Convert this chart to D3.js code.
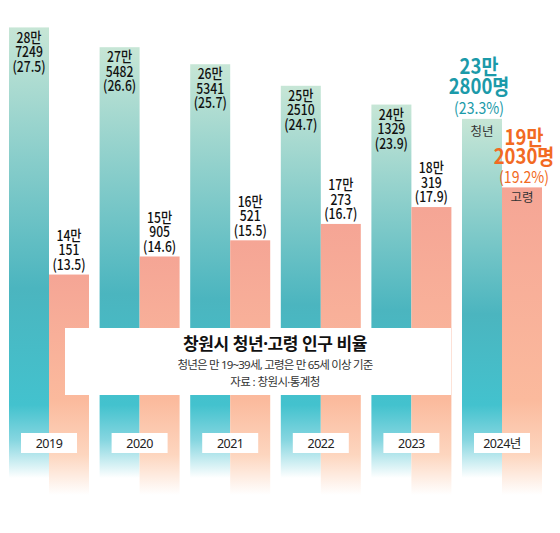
<!DOCTYPE html>
<html>
<head>
<meta charset="utf-8">
<script src="https://cdn.jsdelivr.net/npm/d3@7"></script>
<style>
  body { margin: 0; background: #fff; }
  svg { display: block; font-family: "Noto Sans", "Noto Sans CJK KR", sans-serif; }
  .cjk { font-family: "Noto Sans CJK KR", "Noto Sans", sans-serif; }
</style>
</head>
<body>
<svg id="chart" width="560" height="533"></svg>
<script>
'use strict';

// data
const years = ['2019', '2020', '2021', '2022', '2023', '2024'];
const yearLabels = ['2019', '2020', '2021', '2022', '2023', '2024년'];
const series = ['youth', 'elderly'];
const youth = [287249, 275482, 265341, 252510, 241329, 232800];
const youthPct = [27.5, 26.6, 25.7, 24.7, 23.9, 23.3];
const elderly = [140151, 150905, 160521, 170273, 180319, 192030];
const elderlyPct = [13.5, 14.6, 15.5, 16.7, 17.9, 19.2];

const svg = d3.select('#chart');
const defs = svg.append('defs');

// scales
const x = d3.scaleBand().domain(years).range([9, 542]).paddingInner(0.117).paddingOuter(0);
const xs = d3.scaleBand().domain(series).range([0, x.bandwidth()]).padding(0);
const y = d3.scaleLinear().domain([0, 300000]).range([510, 6]);

const bottomY = y(0);

// split a count into "NN만" and the rest
function man(v) { return Math.floor(v / 10000) + '만'; }
function rest(v) { return String(v % 10000); }

// one gradient per bar, fading to white at the bottom
function tealGrad(id, top) {
  let g = defs.append('linearGradient').attr('id', id)
    .attr('gradientUnits', 'userSpaceOnUse')
    .attr('x1', 0).attr('x2', 0).attr('y1', top).attr('y2', bottomY);
  let span = bottomY - top;
  let off = yy => Math.max(0, Math.min(1, (yy - top) / span));
  g.append('stop').attr('offset', 0).attr('stop-color', '#c7e6d6');
  g.append('stop').attr('offset', off(top + (390 - top) * 0.72)).attr('stop-color', '#4bb5bf');
  g.append('stop').attr('offset', off(405)).attr('stop-color', '#43c2ce');
  g.append('stop').attr('offset', off(440)).attr('stop-color', '#86d6e0');
  g.append('stop').attr('offset', off(478)).attr('stop-color', '#ffffff');
  g.append('stop').attr('offset', 1).attr('stop-color', '#ffffff');
}
function pinkGrad(id, top) {
  let g = defs.append('linearGradient').attr('id', id)
    .attr('gradientUnits', 'userSpaceOnUse')
    .attr('x1', 0).attr('x2', 0).attr('y1', top).attr('y2', bottomY);
  let span = bottomY - top;
  let off = yy => Math.max(0, Math.min(1, (yy - top) / span));
  g.append('stop').attr('offset', 0).attr('stop-color', '#f5a595');
  g.append('stop').attr('offset', off(400)).attr('stop-color', '#fbba9d');
  g.append('stop').attr('offset', off(455)).attr('stop-color', '#fdd6bf');
  g.append('stop').attr('offset', off(495)).attr('stop-color', '#ffffff');
  g.append('stop').attr('offset', 1).attr('stop-color', '#ffffff');
}

const rows = years.map((yr, i) => ({
  year: yr, label: yearLabels[i], i: i,
  youth: youth[i], youthPct: youthPct[i],
  elderly: elderly[i], elderlyPct: elderlyPct[i]
}));

rows.forEach(d => {
  tealGrad('gt' + d.i, y(d.youth));
  pinkGrad('gp' + d.i, y(d.elderly));
});

const groups = svg.append('g').selectAll('g.year')
  .data(rows).enter().append('g')
  .attr('class', 'year')
  .attr('transform', d => `translate(${x(d.year)},0)`);

// youth bars
groups.append('rect')
  .attr('x', xs('youth'))
  .attr('y', d => y(d.youth))
  .attr('width', xs.bandwidth())
  .attr('height', d => bottomY - y(d.youth))
  .attr('fill', d => `url(#gt${d.i})`);

// elderly bars
groups.append('rect')
  .attr('x', xs('elderly'))
  .attr('y', d => y(d.elderly))
  .attr('width', xs.bandwidth())
  .attr('height', d => bottomY - y(d.elderly))
  .attr('fill', d => `url(#gp${d.i})`);

const last = rows.length - 1;
const lineH = 14.5;
const squeeze = 0.84; // the source uses a condensed face

// a three line label as one text element with tspans, squeezed sideways
function stack(g, cx, top, lines) {
  let t = g.append('text')
    .attr('class', 'cjk')
    .attr('transform', `translate(${cx},${top}) scale(${squeeze},1)`)
    .attr('x', 0)
    .attr('y', 0)
    .attr('text-anchor', 'middle')
    .style('font-size', '14.5px')
    .style('font-weight', 500)
    .style('fill', '#111');
  lines.forEach((s, k) => {
    t.append('tspan').attr('x', 0).attr('dy', k === 0 ? '0.36em' : lineH).text(s);
  });
  return t;
}

// value labels inside youth bars and above elderly bars
groups.filter(d => d.i !== last).each(function(d) {
  let g = d3.select(this);
  stack(g, xs('youth') + xs.bandwidth() / 2, y(d.youth) + 10,
    [man(d.youth), rest(d.youth), `(${d.youthPct})`]);
  stack(g, xs('elderly') + xs.bandwidth() / 2, y(d.elderly) - 10 - 2 * lineH,
    [man(d.elderly), rest(d.elderly), `(${d.elderlyPct})`]);
});

// the latest year gets the big coloured call-outs
const lg = groups.filter(d => d.i === last);
lg.each(function(d) {
  let g = d3.select(this);
  let yt = y(d.youth), yp = y(d.elderly);

  g.append('text').attr('class', 'cjk').attr('x', xs('youth') + xs.bandwidth() / 2).attr('y', yt + 13).attr('dy', '0.36em')
    .attr('text-anchor', 'middle').style('font-size', '12.5px').style('fill', '#333').text('청년');
  g.append('text').attr('class', 'cjk').attr('x', xs('elderly') + xs.bandwidth() / 2).attr('y', yp + 10).attr('dy', '0.36em')
    .attr('text-anchor', 'middle').style('font-size', '12.5px').style('fill', '#333').text('고령');

  function callout(cx, top, step, lines, color) {
    let t = g.append('text')
      .attr('class', 'cjk')
      .attr('transform', `translate(${cx},${top}) scale(0.88,1)`)
      .attr('x', 0)
      .attr('y', 0)
      .attr('text-anchor', 'middle')
      .style('fill', color);
    lines.forEach((s, k) => {
      t.append('tspan').attr('x', 0)
        .attr('dy', k === 0 ? '0.36em' : step)
        .style('font-size', s[1] + 'px')
        .style('font-weight', s[2])
        .text(s[0]);
    });
  }
  callout(xs('youth') + xs.bandwidth() / 2 - 3, yt - 12 - 40, 20,
    [[man(d.youth), 21, 700], [rest(d.youth) + '명', 21, 700], [`(${d.youthPct}%)`, 16, 400]], '#1b9aa9');
  callout(xs('elderly') + xs.bandwidth() / 2 + 2, yp - 12 - 38, 19,
    [[man(d.elderly), 21, 700], [rest(d.elderly) + '명', 21, 700], [`(${d.elderlyPct}%)`, 16, 400]], '#f26a22');
});

// year tags near the bottom
const tagW = 56, tagH = 20, tagY = 433;
groups.append('rect')
  .attr('x', x.bandwidth() / 2 - tagW / 2)
  .attr('y', tagY)
  .attr('width', tagW)
  .attr('height', tagH)
  .attr('fill', '#fff');
groups.append('text')
  .attr('x', x.bandwidth() / 2)
  .attr('y', tagY + tagH / 2)
  .attr('dy', '0.36em')
  .attr('text-anchor', 'middle')
  .style('font-size', '12.5px')
  .style('letter-spacing', '-0.5px')
  .style('fill', '#222')
  .text(d => d.label);

// title panel
const tb = svg.append('g');
tb.append('rect').attr('x', 65).attr('y', 328).attr('width', 386).attr('height', 67).attr('fill', '#fff');
tb.append('text').attr('x', 275).attr('y', 344).attr('dy', '0.36em').attr('text-anchor', 'middle')
  .style('font-size', '17px').style('font-weight', 700).style('letter-spacing', '-0.4px').style('fill', '#111')
  .text('창원시 청년·고령 인구 비율');
tb.append('text').attr('x', 275).attr('y', 365).attr('dy', '0.36em').attr('text-anchor', 'middle')
  .style('font-size', '11.5px').style('letter-spacing', '-0.8px').style('fill', '#333')
  .text('청년은 만 19~39세, 고령은 만 65세 이상 기준');
tb.append('text').attr('x', 275).attr('y', 382).attr('dy', '0.36em').attr('text-anchor', 'middle')
  .style('font-size', '11.5px').style('letter-spacing', '-0.6px').style('fill', '#333')
  .text('자료 : 창원시·통계청');
</script>
</body>
</html>
